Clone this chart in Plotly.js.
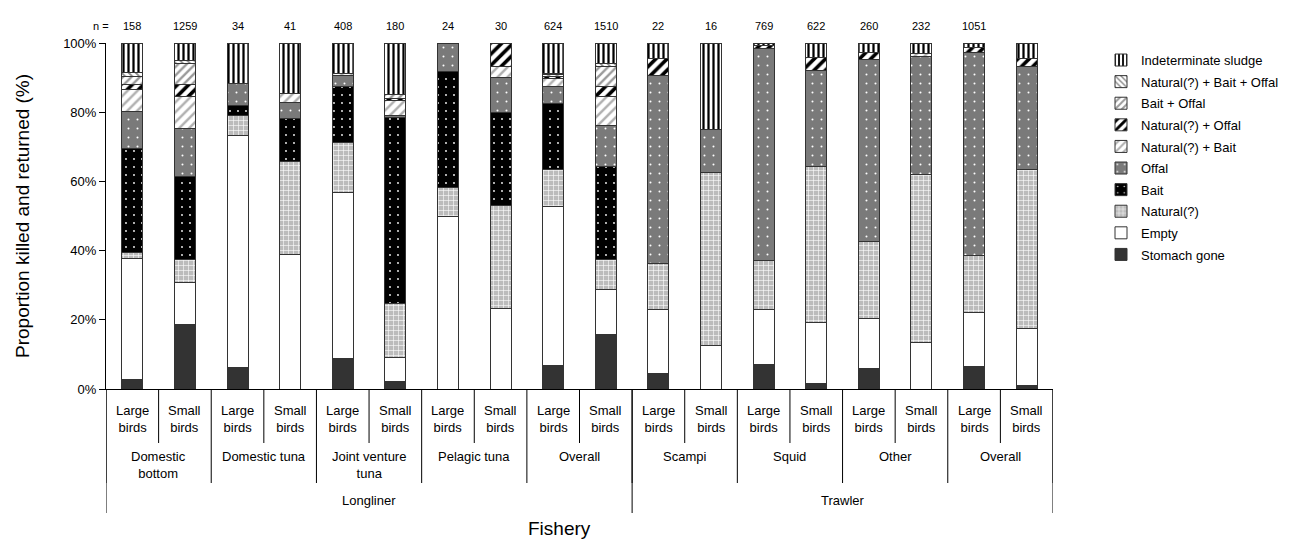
<!DOCTYPE html>
<html>
<head>
<meta charset="utf-8">
<script src="https://cdn.plot.ly/plotly-3.0.1.min.js"></script>
<style>
  html, body { margin: 0; padding: 0; background: #fff; }
  #chart { width: 1297px; height: 542px; }
</style>
</head>
<body>
<div id="chart"></div>
<script>
// ---------- DATA ----------
const vessels = ['Longliner', 'Trawler'];
const fisheries = ['Domestic bottom', 'Domestic tuna', 'Joint venture tuna', 'Pelagic tuna', 'Overall',
                   'Scampi', 'Squid', 'Other', 'Overall'];
const fisheryLabels = ['Domestic<br>bottom', 'Domestic tuna', 'Joint venture<br>tuna', 'Pelagic tuna', 'Overall',
                       'Scampi', 'Squid', 'Other', 'Overall'];
const fisheryVessel = ['Longliner', 'Longliner', 'Longliner', 'Longliner', 'Longliner',
                       'Trawler', 'Trawler', 'Trawler', 'Trawler'];
const birdSizes = ['Large birds', 'Small birds'];
const birdLabels = ['Large<br>birds', 'Small<br>birds'];
const nValues = ['158', '1259', '34', '41', '408', '180', '24', '30', '624', '1510',
                 '22', '16', '769', '622', '260', '232', '1051', ''];

// percentages per bar (order: fishery x bird size)
const stomachGone      = [2.7, 18.6, 6.1, 0,    8.75, 2.2,  0,    0,    6.8,  15.7, 4.4,  0,    7.0,  1.5,  5.8,  0,    6.5,  1.1];
const empty            = [35.1, 12.2, 67.3, 38.9, 48.05, 7.0, 50.0, 23.4, 45.9, 13.0, 18.5, 12.5, 15.9, 17.7, 14.7, 13.5, 15.6, 16.5];
const natural          = [1.7, 6.5,  5.7,  26.9, 14.5, 15.6, 8.2,  29.6, 10.8, 8.6,  13.4, 50.0, 14.2, 45.2, 22.1, 48.6, 16.4, 45.9];
const bait             = [30.0, 24.0, 2.8, 12.5, 16.1, 53.6, 33.6, 26.9, 19.0, 26.9, 0,    0,    0,    0,    0,    0,    0,    0];
const offal            = [10.8, 14.0, 6.4, 4.5,  3.1,  0.7,  8.2,  10.1, 5.0,  11.9, 54.4, 12.5, 61.3, 27.7, 52.6, 34.1, 58.9, 29.6];
const naturalBait      = [6.3, 9.1,  0,    2.6,  0.6,  4.4,  0,    3.1,  2.2,  8.5,  0,    0,    0,    0,    0,    0.7,  0,    0];
const naturalOffal     = [1.5, 3.6,  0,    0,    0,    0.5,  0,    6.9,  0.7,  2.7,  4.8,  0,    0.9,  3.6,  2.2,  0,    1.4,  2.4];
const baitOffal        = [2.1, 6.0,  0,    0,    0,    1.0,  0,    0,    0.6,  5.8,  0,    0,    0,    0,    0,    0,    0,    0];
const naturalBaitOffal = [1.4, 1.0,  0,    0,    0,    0,    0,    0,    0.3,  0.9,  0,    0,    0,    0,    0,    0,    0,    0];
const sludge           = [8.4, 5.0,  11.7, 14.6, 8.9,  15.0, 0,    0,    8.7,  6.0,  4.5,  25.0, 0.7,  4.3,  2.6,  3.1,  1.2,  4.5];

const yTicks = [0, 20, 40, 60, 80, 100];

// ---------- BUILD ----------
const cats = [];
const catBird = [];
fisheries.forEach((f, i) => {
  birdSizes.forEach((b, j) => {
    cats.push(fisheryVessel[i] + ' | ' + f + ' | ' + b);
    catBird.push(j);
  });
});

const seriesDefs = [
  { name: 'Stomach gone', y: stomachGone, color: '#333333' },
  { name: 'Empty', y: empty, color: '#ffffff' },
  { name: 'Natural(?)', y: natural, color: '#b8b8b8',
    pattern: { shape: '+', bgcolor: '#bcbcbc', fgcolor: '#ffffff', size: 5, solidity: 0.22 } },
  { name: 'Bait', y: bait, color: '#000000',
    pattern: { shape: '.', bgcolor: '#000000', fgcolor: '#ffffff', size: 8, solidity: 0.04 } },
  { name: 'Offal', y: offal, color: '#7a7a7a',
    pattern: { shape: '.', bgcolor: '#7a7a7a', fgcolor: '#ffffff', size: 9, solidity: 0.04 } },
  { name: 'Natural(?) + Bait', y: naturalBait, color: '#b0b0b0',
    pattern: { shape: '/', bgcolor: '#ffffff', fgcolor: '#b0b0b0', size: 7, solidity: 0.35 } },
  { name: 'Natural(?) + Offal', y: naturalOffal, color: '#000000',
    pattern: { shape: '/', bgcolor: '#ffffff', fgcolor: '#000000', size: 8, solidity: 0.45 } },
  { name: 'Bait + Offal', y: baitOffal, color: '#a0a0a0',
    pattern: { shape: '/', bgcolor: '#ffffff', fgcolor: '#9a9a9a', size: 6, solidity: 0.4 } },
  { name: 'Natural(?) + Bait + Offal', y: naturalBaitOffal, color: '#888888',
    pattern: { shape: '\\', bgcolor: '#ffffff', fgcolor: '#888888', size: 5, solidity: 0.35 } },
  { name: 'Indeterminate sludge', y: sludge, color: '#000000',
    pattern: { shape: '|', bgcolor: '#ffffff', fgcolor: '#000000', size: 5, solidity: 0.45 } }
];

const traces = seriesDefs.map((s, k) => {
  const marker = { color: s.color, line: { color: '#333333', width: 1 } };
  if (s.pattern) marker.pattern = Object.assign({ fillmode: 'replace' }, s.pattern);
  return {
    type: 'bar',
    name: s.name,
    x: cats,
    y: s.y.map(v => (v > 0 ? v : null)),
    marker: marker,
    legendgroup: 'g' + k,
    legendrank: 1000 - k,
    hoverinfo: 'name+y'
  };
});

const FONT = 'Liberation Sans, Arial, sans-serif';
const annotations = [];
const shapes = [];

// n labels
annotations.push({ xref: 'paper', yref: 'paper', x: 0, y: 1, xshift: -15, yshift: 25,
  text: 'n =', showarrow: false, font: { size: 11, family: FONT, color: '#000' } });
cats.forEach((c, i) => {
  if (nValues[i] !== '') {
    annotations.push({ xref: 'x', yref: 'paper', x: i, y: 1, yshift: 25, text: nValues[i],
      showarrow: false, font: { size: 11, family: FONT, color: '#000' } });
  }
  // bird labels
  annotations.push({ xref: 'x', yref: 'paper', x: i, y: 0, yanchor: 'middle', yshift: -30,
    text: birdLabels[catBird[i]], showarrow: false, font: { size: 13, family: FONT, color: '#000' } });
});

// fishery labels + separators
fisheries.forEach((f, k) => {
  annotations.push({ xref: 'x', yref: 'paper', x: 2 * k + 0.5, y: 0, yanchor: 'top', yshift: -58,
    text: fisheryLabels[k], showarrow: false, font: { size: 13, family: FONT, color: '#000' } });
  shapes.push({ type: 'line', xref: 'x', yref: 'paper', ysizemode: 'pixel', yanchor: 0,
    x0: 2 * k + 0.5, x1: 2 * k + 0.5, y0: 0, y1: -54, line: { color: '#000', width: 1 } });
});
for (let k = 0; k <= fisheries.length; k++) {
  shapes.push({ type: 'line', xref: 'x', yref: 'paper', ysizemode: 'pixel', yanchor: 0,
    x0: 2 * k - 0.5, x1: 2 * k - 0.5, y0: 0, y1: -94, line: { color: '#000', width: 1 } });
}

// vessel labels + separators
const vesselBounds = [];
let start = 0;
vessels.forEach(v => {
  const count = fisheryVessel.filter(fv => fv === v).length * birdSizes.length;
  vesselBounds.push([start, start + count]);
  annotations.push({ xref: 'x', yref: 'paper', x: start + (count - 1) / 2, y: 0, yanchor: 'middle', yshift: -111,
    text: v, showarrow: false, font: { size: 13, family: FONT, color: '#000' } });
  start += count;
});
const vesselEdges = [-0.5].concat(vesselBounds.map(b => b[1] - 0.5));
vesselEdges.forEach(xe => {
  shapes.push({ type: 'line', xref: 'x', yref: 'paper', ysizemode: 'pixel', yanchor: 0,
    x0: xe, x1: xe, y0: 0, y1: -124, line: { color: '#000', width: 1 } });
});

// axis titles
annotations.push({ xref: 'paper', yref: 'paper', x: 0.479, y: 0, yanchor: 'middle', yshift: -139,
  text: 'Fishery', showarrow: false, font: { size: 19, family: FONT, color: '#000' } });
annotations.push({ xref: 'paper', yref: 'paper', x: 0, y: 0.5, xshift: -84, xanchor: 'center', yanchor: 'middle',
  textangle: -90, text: 'Proportion killed and returned (%)', showarrow: false,
  font: { size: 19, family: FONT, color: '#000' } });

const layout = {
  width: 1297,
  height: 542,
  margin: { l: 106, r: 244, t: 43, b: 153 },
  paper_bgcolor: '#ffffff',
  plot_bgcolor: '#ffffff',
  font: { family: FONT, color: '#000', size: 13 },
  barmode: 'stack',
  bargap: 0.6,
  showlegend: true,
  legend: {
    x: 1.0507, xanchor: 'left', y: 0.994, yanchor: 'top',
    traceorder: 'grouped', tracegroupgap: 1.7,
    font: { size: 13, family: FONT, color: '#000' },
    bgcolor: 'rgba(0,0,0,0)', borderwidth: 0
  },
  xaxis: {
    type: 'category',
    categoryorder: 'array',
    categoryarray: cats,
    range: [-0.5, cats.length - 0.5],
    showticklabels: false,
    ticks: '',
    showline: true,
    linecolor: '#000',
    linewidth: 1,
    showgrid: false,
    zeroline: false,
    fixedrange: true
  },
  yaxis: {
    range: [0, 100],
    tickvals: yTicks,
    ticktext: yTicks.map(v => v + '%'),
    ticks: 'outside',
    ticklen: 6,
    tickcolor: '#000',
    tickfont: { size: 13, family: FONT, color: '#000' },
    showline: true,
    linecolor: '#000',
    linewidth: 1,
    showgrid: false,
    zeroline: false,
    fixedrange: true
  },
  annotations: annotations,
  shapes: shapes
};

Plotly.newPlot('chart', traces, layout, { displayModeBar: false, staticPlot: true });
</script>
</body>
</html>
